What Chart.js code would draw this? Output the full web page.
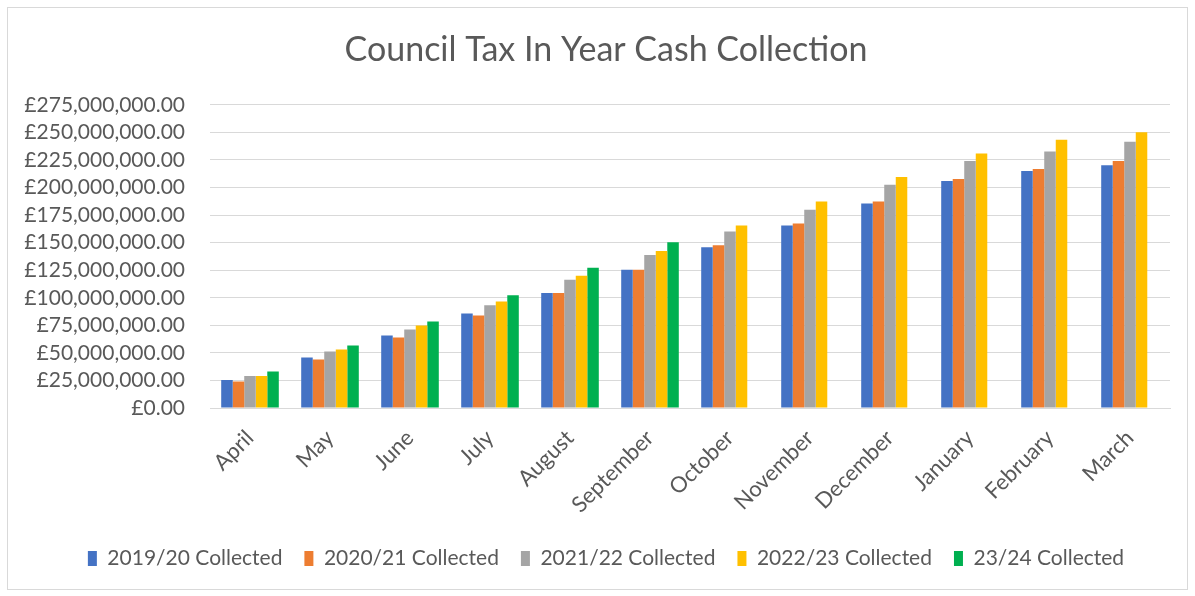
<!DOCTYPE html>
<html>
<head>
<meta charset="utf-8">
<script src="https://cdn.jsdelivr.net/npm/chart.js@4"></script>
<style>
  body { margin: 0; background: #fff; }
  #wrap { position: relative; width: 1195px; height: 596px; }
</style>
</head>
<body>
<div id="wrap"><canvas id="chart"></canvas></div>
<script>
var months = ["April", "May", "June", "July", "August", "September", "October",
              "November", "December", "January", "February", "March"];

var collected_1920 = [25.5e6, 45.8e6, 65.8e6, 85.8e6, 104.3e6, 125.5e6, 145.8e6, 165.5e6, 185.4e6, 206.0e6, 214.9e6, 220.2e6];
var collected_2021 = [24.0e6, 44.0e6, 64.0e6, 84.0e6, 104.3e6, 125.5e6, 147.6e6, 167.3e6, 187.3e6, 207.7e6, 216.7e6, 224.1e6];
var collected_2122 = [29.1e6, 51.3e6, 71.3e6, 93.1e6, 116.3e6, 138.7e6, 160.1e6, 179.7e6, 202.4e6, 224.1e6, 232.6e6, 241.5e6];
var collected_2223 = [29.1e6, 53.1e6, 74.9e6, 96.7e6, 119.9e6, 142.3e6, 165.5e6, 187.3e6, 209.5e6, 230.9e6, 243.2e6, 250.0e6];
var collected_2324 = [33.1e6, 56.7e6, 78.5e6, 102.2e6, 127.2e6, 150.3e6, null, null, null, null, null, null];

var series = [
    {name: "2019/20 Collected", color: "#4472c4", data: collected_1920},
    {name: "2020/21 Collected", color: "#ed7d31", data: collected_2021},
    {name: "2021/22 Collected", color: "#a5a5a5", data: collected_2122},
    {name: "2022/23 Collected", color: "#ffc000", data: collected_2223},
    {name: "23/24 Collected", color: "#00b050", data: collected_2324}
];

var font_family = "Lato, 'Open Sans', sans-serif";
var text_color = "#595959";

function money(v) {
    return "£" + Number(v).toLocaleString("en-GB", {minimumFractionDigits: 2, maximumFractionDigits: 2});
}

// light frame round the whole chart, like the Excel chart area
var frame = {
    id: 'frame',
    beforeDraw: function(chart) {
        var ctx = chart.ctx;
        ctx.save();
        ctx.fillStyle = "#fff";
        ctx.fillRect(0, 0, chart.width, chart.height);
        ctx.strokeStyle = "#d9d9d9";
        ctx.lineWidth = 1;
        ctx.strokeRect(7.5, 7.5, 1180, 582);
        ctx.restore();
    }
};

// excel centres title and legend a little right of the canvas middle
var nudge = {
    id: 'nudge',
    afterLayout: function(chart) {
        [chart.titleBlock, chart.legend].forEach(function(box) {
            if (!box) return;
            box.left += 11;
            box.right += 11;
        });
    }
};

var config = {
  type: 'bar',
  data: {
    labels: months,
    datasets: series.map(function(s) {
        return {
            label: s.name,
            data: s.data,
            backgroundColor: s.color,
            borderWidth: 0,
            barPercentage: 1.0,
            categoryPercentage: 0.72
        };
    })
  },
  options: {
    responsive: true,
    maintainAspectRatio: false,
    animation: false,
    layout: {
      padding: {left: 20, right: 25, top: 0, bottom: 17}
    },
    plugins: {
      title: {
        display: true,
        text: "Council Tax In Year Cash Collection",
        color: text_color,
        font: {family: font_family, size: 34, weight: 'normal'},
        padding: {top: 30, bottom: 34}
      },
      legend: {
        position: 'bottom',
        labels: {
          boxWidth: 9,
          boxHeight: 15,
          padding: 22,
          color: text_color,
          font: {family: font_family, size: 21}
        }
      },
      tooltip: {enabled: false}
    },
    scales: {
      x: {
        grid: {display: false, drawTicks: false},
        border: {color: "#d9d9d9"},
        ticks: {
          color: text_color,
          font: {family: font_family, size: 22},
          minRotation: 45,
          maxRotation: 45,
          padding: 17
        },
        afterFit: function(scale) { scale.height = 118; }
      },
      y: {
        min: 0,
        max: 275000000,
        grid: {color: "#d9d9d9", drawTicks: false},
        border: {display: false},
        ticks: {
          stepSize: 25000000,
          autoSkip: false,
          color: text_color,
          font: {family: font_family, size: 21},
          padding: 25,
          callback: function(v) { return money(v); }
        },
        afterFit: function(scale) { scale.width = 190; }
      }
    }
  },
  plugins: [frame, nudge]
};

(function() {
    new Chart(document.getElementById('chart'), config);
})();
</script>
</body>
</html>
